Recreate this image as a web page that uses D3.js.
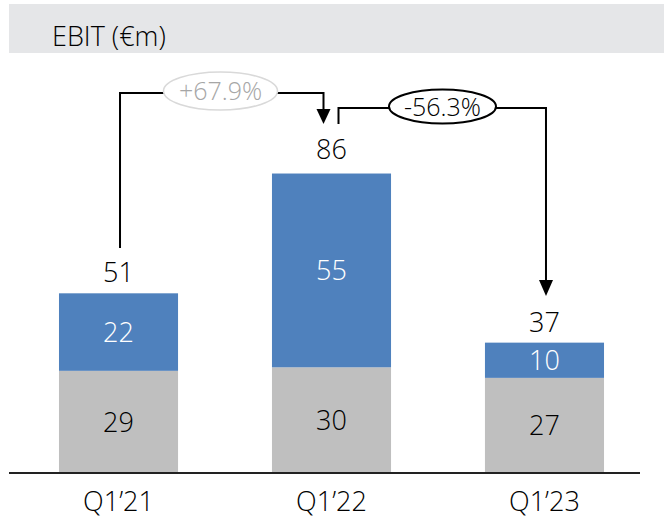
<!DOCTYPE html>
<html><head><meta charset="utf-8">
<script src="https://cdn.jsdelivr.net/npm/d3@7"></script>
<style>body{margin:0;background:#fff}svg{display:block}text{font-family:"Open Sans",sans-serif}</style>
</head><body><svg id="c" width="664" height="522"></svg>
<script>
const categories = ["Q1\u201921", "Q1\u201922", "Q1\u201923"];
const baseValues = [29, 30, 27];
const topValues = [22, 55, 10];
const totals = [51, 86, 37];
const changes = ["+67.9%", "-56.3%"];
const title = "EBIT (\u20acm)";

const svg = d3.select("#c");
const W = 664, H = 522;
const axisY = 473;

svg.append("rect").attr("x", 9).attr("y", 4).attr("width", W - 9).attr("height", 49).attr("fill", "#e5e6e8");
svg.append("text").attr("x", 52).attr("y", 46).attr("font-size", 27).attr("font-weight", 300).attr("fill", "#000").text(title);

const x = d3.scaleBand().domain(categories).range([12, 651]).paddingInner(0.441).paddingOuter(0.2206);
const y = d3.scaleLinear().domain([0, 86]).range([axisY, axisY - 303]);
const bw = x.bandwidth();
const fs = 27;

const g = svg.append("g");
categories.forEach((c, i) => {
  const x0 = x(c);
  g.append("rect").attr("x", x0).attr("y", y(baseValues[i])).attr("width", bw).attr("height", y(0) - y(baseValues[i])).attr("fill", "#bfbfbf");
  g.append("rect").attr("x", x0).attr("y", y(baseValues[i] + topValues[i])).attr("width", bw).attr("height", y(baseValues[i]) - y(baseValues[i] + topValues[i])).attr("fill", "#4f81bd");
  g.append("text").attr("x", x0 + bw / 2).attr("y", (y(0) + y(baseValues[i])) / 2 + 10).attr("text-anchor", "middle").attr("font-size", fs).attr("font-weight", 300).attr("fill", "#000").text(baseValues[i]);
  g.append("text").attr("x", x0 + bw / 2).attr("y", (y(baseValues[i]) + y(baseValues[i] + topValues[i])) / 2 + 10).attr("text-anchor", "middle").attr("font-size", fs).attr("font-weight", 300).attr("fill", "#fff").text(topValues[i]);
  g.append("text").attr("x", x0 + bw / 2).attr("y", y(totals[i]) - 11).attr("text-anchor", "middle").attr("font-size", fs).attr("font-weight", 300).attr("fill", "#000").text(totals[i]);
  g.append("text").attr("x", x0 + bw / 2).attr("y", 511).attr("text-anchor", "middle").attr("font-size", fs).attr("font-weight", 300).attr("fill", "#000").text(c);
});

svg.append("line").attr("x1", 9).attr("x2", 640).attr("y1", axisY).attr("y2", axisY).attr("stroke", "#222").attr("stroke-width", 2);

const cx = c => x(c) + bw / 2;
const lw = 2;
// arrow 1
const a1x0 = cx(categories[0]) + 1.5, a1x1 = cx(categories[1]) - 8, a1y = 93;
svg.append("path").attr("d", `M${a1x0},248 V${a1y} H${a1x1} V110`).attr("fill", "none").attr("stroke", "#000").attr("stroke-width", lw);
svg.append("path").attr("d", `M${a1x1 - 7},109 L${a1x1 + 7},109 L${a1x1},124 Z`).attr("fill", "#000");
const e1x = 220.5;
svg.append("ellipse").attr("cx", e1x).attr("cy", 91).attr("rx", 57).attr("ry", 19).attr("fill", "#fff").attr("stroke", "#d9d9d9").attr("stroke-width", 1.5);
svg.append("text").attr("x", e1x).attr("y", 100).attr("text-anchor", "middle").attr("font-size", 25).attr("font-weight", 300).attr("fill", "#a6a6a6").text(changes[0]);

// arrow 2
const a2x0 = cx(categories[1]) + 7, a2x1 = cx(categories[2]) + 1.5, a2y = 108;
svg.append("path").attr("d", `M${a2x0},124 V${a2y} H${a2x1} V281`).attr("fill", "none").attr("stroke", "#000").attr("stroke-width", lw);
svg.append("path").attr("d", `M${a2x1 - 7},280 L${a2x1 + 7},280 L${a2x1},296 Z`).attr("fill", "#000");
const e2x = 442.5;
svg.append("ellipse").attr("cx", e2x).attr("cy", 106.5).attr("rx", 53.5).attr("ry", 17).attr("fill", "#fff").attr("stroke", "#000").attr("stroke-width", 2);
svg.append("text").attr("x", e2x).attr("y", 115.5).attr("text-anchor", "middle").attr("font-size", 25).attr("font-weight", 300).attr("fill", "#000").text(changes[1]);
</script></body></html>
